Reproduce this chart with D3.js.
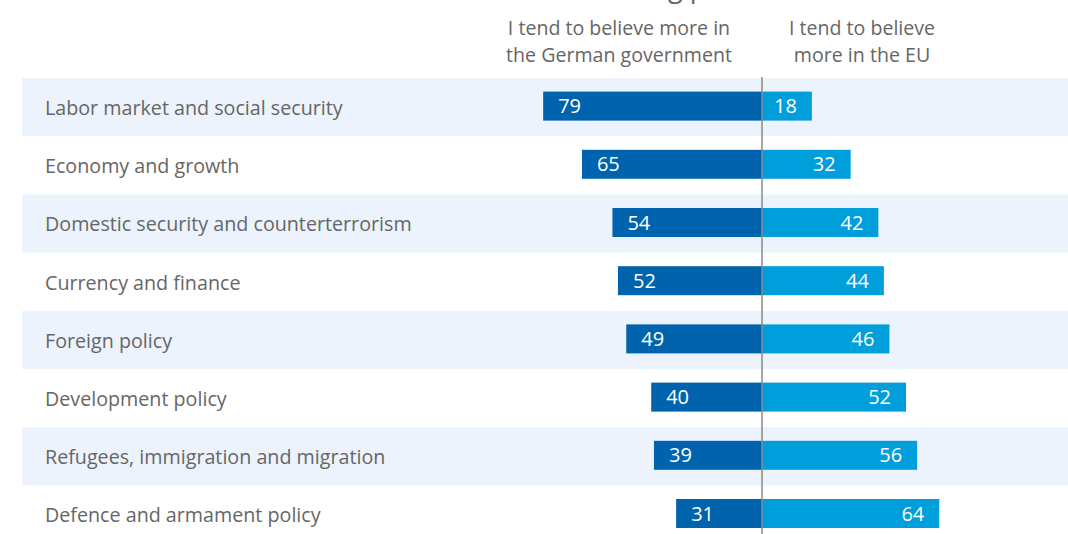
<!DOCTYPE html>
<html>
<head>
<meta charset="utf-8">
<script src="https://cdn.jsdelivr.net/npm/d3@7"></script>
<style>
  html, body { margin: 0; padding: 0; background: #fff; }
  svg { display: block; }
  text { font-family: "Open Sans", "Noto Sans", sans-serif; }
</style>
</head>
<body>
<svg id="chart" width="1068" height="534"></svg>
<script>
// Policy areas, top to bottom
const categories = [
  "Labor market and social security",
  "Economy and growth",
  "Domestic security and counterterrorism",
  "Currency and finance",
  "Foreign policy",
  "Development policy",
  "Refugees, immigration and migration",
  "Defence and armament policy"
];
// Share (%) trusting the German government more
const germanGov = [79, 65, 54, 52, 49, 40, 39, 31];
// Share (%) trusting the EU more
const eu = [18, 32, 42, 44, 46, 52, 56, 64];
const headerLeft = ["I tend to believe more in", "the German government"];
const headerRight = ["I tend to believe", "more in the EU"];
const title = "Trust in the following policies";

const W = 1068, H = 534;
const centerX = 762;
const pxPerUnit = 2.77;
const rowTop = 78, rowStep = 58.2;

const svg = d3.select("#chart");

// Rows
const y = d3.scaleBand()
  .domain(categories)
  .range([rowTop, rowTop + rowStep * categories.length])
  .paddingInner(0).paddingOuter(0);

// Diverging value scales around the centre line
const xLeft = d3.scaleLinear().domain([0, 100]).range([centerX, centerX - 100 * pxPerUnit]);
const xRight = d3.scaleLinear().domain([0, 100]).range([centerX, centerX + 100 * pxPerUnit]);

// Title, running off the top edge; placed so the "g" of "following" starts at x=668
const titleText = svg.append("text")
  .attr("y", -3)
  .attr("font-size", 27)
  .attr("fill", "#666")
  .text(title.slice(0, title.indexOf("g ")));
const lead = titleText.node().getComputedTextLength();
titleText.attr("x", 668 - lead).text(title);

// Alternating background bands
svg.append("g").selectAll("rect")
  .data(categories.filter((d, i) => i % 2 === 0))
  .join("rect")
  .attr("x", 22)
  .attr("y", d => y(d))
  .attr("width", W - 22)
  .attr("height", y.bandwidth())
  .attr("fill", "#ECF3FC");

// Column headers
const hdr = svg.append("g").attr("fill", "#666").attr("font-size", 19.6).attr("text-anchor", "middle");
headerLeft.forEach((t, i) => hdr.append("text").attr("x", 619).attr("y", 35 + i * 27).text(t));
headerRight.forEach((t, i) => hdr.append("text").attr("x", 862).attr("y", 35 + i * 27).text(t));

// Category labels
svg.append("g").selectAll("text")
  .data(categories)
  .join("text")
  .attr("x", 45)
  .attr("y", d => y(d) + y.bandwidth() / 2 + 1)
  .attr("dy", "0.35em")
  .attr("font-size", 19.7)
  .attr("fill", "#666")
  .text(d => d);

const barH = 29;
const barY = d => y(d) + y.bandwidth() / 2 - barH / 2 - 1;

// German government bars (left)
svg.append("g").selectAll("rect")
  .data(categories)
  .join("rect")
  .attr("x", (d, i) => xLeft(germanGov[i]))
  .attr("y", barY)
  .attr("width", (d, i) => centerX - xLeft(germanGov[i]))
  .attr("height", barH)
  .attr("fill", "#0063AD");

// EU bars (right)
svg.append("g").selectAll("rect")
  .data(categories)
  .join("rect")
  .attr("x", centerX)
  .attr("y", barY)
  .attr("width", (d, i) => xRight(eu[i]) - centerX)
  .attr("height", barH)
  .attr("fill", "#009EDB");

// Value labels
svg.append("g").selectAll("text")
  .data(categories)
  .join("text")
  .attr("x", (d, i) => xLeft(germanGov[i]) + 15)
  .attr("y", d => barY(d) + barH / 2)
  .attr("dy", "0.35em")
  .attr("font-size", 20)
  .attr("fill", "#fff")
  .text((d, i) => germanGov[i]);

svg.append("g").selectAll("text")
  .data(categories)
  .join("text")
  .attr("x", (d, i) => xRight(eu[i]) - 15)
  .attr("y", d => barY(d) + barH / 2)
  .attr("dy", "0.35em")
  .attr("text-anchor", "end")
  .attr("font-size", 20)
  .attr("fill", "#fff")
  .text((d, i) => eu[i]);

// Centre divider
svg.append("line")
  .attr("x1", centerX).attr("x2", centerX)
  .attr("y1", 77).attr("y2", H)
  .attr("stroke", "#888")
  .attr("stroke-width", 1.5);
</script>
</body>
</html>
